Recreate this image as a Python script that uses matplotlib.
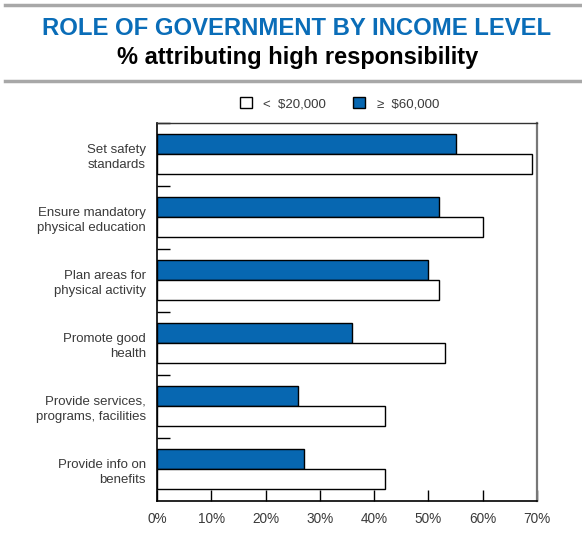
import matplotlib
matplotlib.use('Agg')
import matplotlib.pyplot as plt
from matplotlib.patches import Patch
from matplotlib.lines import Line2D

plt.rcParams['font.family'] = ['Liberation Sans', 'DejaVu Sans']

# 各项职能及两组收入人群的比例（%）
categories = [
    'Set safety\nstandards',
    'Ensure mandatory\nphysical education',
    'Plan areas for\nphysical activity',
    'Promote good\nhealth',
    'Provide services,\nprograms, facilities',
    'Provide info on\nbenefits',
]
high_income = [55, 52, 50, 36, 26, 27]   # >= $60,000
low_income = [69, 60, 52, 53, 42, 42]    # < $20,000
x_ticks = [0, 10, 20, 30, 40, 50, 60, 70]
x_tick_labels = ['0%', '10%', '20%', '30%', '40%', '50%', '60%', '70%']

blue = '#0767B1'
text_gray = '#3a3a3a'

fig = plt.figure(figsize=(5.82, 5.34), dpi=100)
ax = fig.add_axes([0.2698, 0.0618, 0.6529, 0.7079])

pos = list(range(len(categories)))
bar_h = 0.315
ax.barh([p - 0.165 for p in pos], high_income, height=bar_h,
        color=blue, edgecolor='black', linewidth=1.0, zorder=3)
ax.barh([p + 0.15 for p in pos], low_income, height=bar_h,
        color='white', edgecolor='black', linewidth=1.0, zorder=3)

ax.set_xlim(0, 70)
ax.set_ylim(len(categories) - 0.5, -0.5)

ax.set_xticks(x_ticks)
ax.set_xticklabels(x_tick_labels, fontsize=9.8, color=text_gray)
ax.tick_params(axis='x', direction='in', length=8, width=1, pad=8)

ax.set_yticks(pos)
ax.set_yticklabels(categories, fontsize=9.5, color=text_gray,
                   linespacing=1.3, multialignment='right')
ax.tick_params(axis='y', which='major', length=0, pad=8)
ax.set_yticks([p - 0.5 for p in pos], minor=True)
ax.tick_params(axis='y', which='minor', direction='in', length=9, width=1)

# 边框：左、下为黑色，上、右为灰色
ax.spines['left'].set_color('black')
ax.spines['left'].set_linewidth(1.2)
ax.spines['bottom'].set_color('black')
ax.spines['bottom'].set_linewidth(1.2)
ax.spines['top'].set_color('#333333')
ax.spines['top'].set_linewidth(1.0)
ax.spines['right'].set_color('#777777')
ax.spines['right'].set_linewidth(1.6)

# 标题区域与上下灰色分隔线
fig.add_artist(Line2D([0.009, 0.997], [0.991, 0.991], color='#a8a8a8',
                      linewidth=2.5, transform=fig.transFigure))
fig.add_artist(Line2D([0.009, 0.997], [0.848, 0.848], color='#a8a8a8',
                      linewidth=2.5, transform=fig.transFigure))
fig.text(0.509, 0.946, 'ROLE OF GOVERNMENT BY INCOME LEVEL', ha='center',
         va='center', fontsize=17.2, fontweight='bold', color='#0A6DB8')
fig.text(0.511, 0.892, '% attributing high responsibility', ha='center',
         va='center', fontsize=17.0, fontweight='bold', color='black')

handles = [Patch(facecolor='white', edgecolor='black', linewidth=1.0),
           Patch(facecolor=blue, edgecolor='black', linewidth=1.0)]
fig.legend(handles, ['<  $20,000', '\u2265  $60,000'], loc='center',
           bbox_to_anchor=(0.583, 0.806), ncol=2, frameon=False,
           fontsize=9.5, labelcolor=text_gray, handlelength=0.9,
           handleheight=0.9, handletextpad=0.9, columnspacing=2.0)

fig.savefig('out.png', dpi=100)
